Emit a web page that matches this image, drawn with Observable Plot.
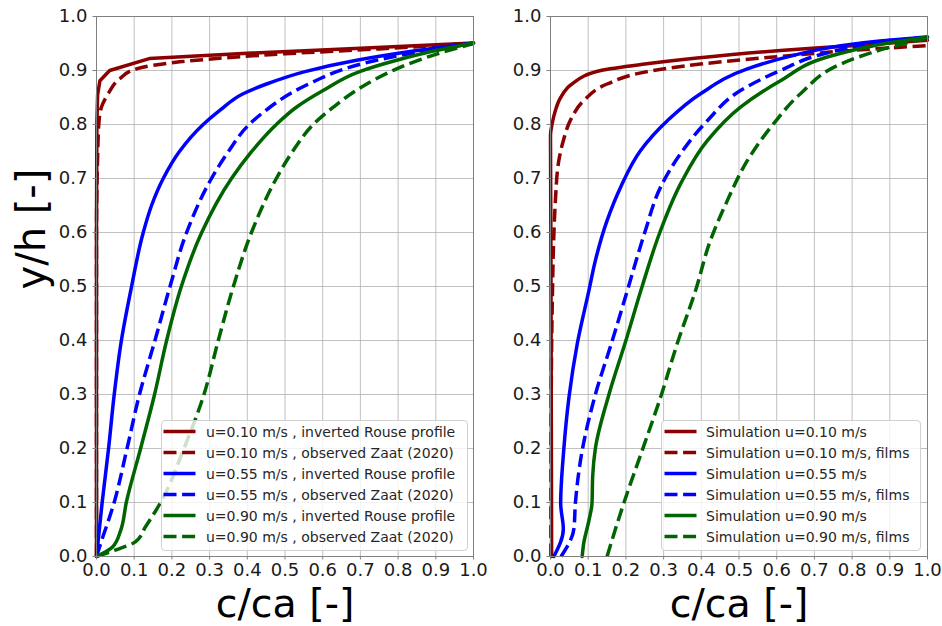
<!DOCTYPE html>
<html>
<head>
<meta charset="utf-8">
<script src="https://cdn.jsdelivr.net/npm/d3@7"></script>
<script src="https://cdn.jsdelivr.net/npm/@observablehq/plot@0.6"></script>
<style>
  body { margin: 0; background: #fff; }
  #wrap { position: relative; width: 942px; height: 626px; overflow: hidden; font-family: "DejaVu Sans", sans-serif; }
  .legend { position: absolute; box-sizing: border-box; border: 1px solid #d0d0d0; border-radius: 4px; background: rgba(255,255,255,0.8); }
</style>
</head>
<body>
<div id="wrap"></div>
<script>
// ---------- data: [c/ca, y/h] pairs ----------
// Left panel: inverted Rouse profile vs observed Zaat (2020)
const rouse010 = [[0,0],[0,0.6],[0.001,0.8],[0.003,0.855],[0.009,0.881],[0.035,0.9],[0.14,0.922],[0.4,0.932],[0.7,0.941],[1.0,0.951]];
const obs010   = [[0,0],[0,0.6],[0.003,0.74],[0.006,0.8],[0.013,0.832],[0.031,0.857],[0.062,0.885],[0.106,0.903],[0.221,0.916],[0.265,0.919],[0.5,0.931],[0.75,0.94],[1.0,0.95]];
const rouse055 = [[0,0],[0.015,0.1],[0.032,0.2],[0.047,0.3],[0.066,0.4],[0.093,0.5],[0.124,0.6],[0.146,0.65],[0.177,0.7],[0.22,0.75],[0.283,0.8],[0.327,0.826],[0.389,0.857],[0.451,0.875],[0.553,0.898],[0.69,0.919],[0.85,0.937],[1.0,0.951]];
const obs055   = [[0,0],[0.011,0.024],[0.046,0.098],[0.081,0.2],[0.114,0.3],[0.155,0.4],[0.195,0.5],[0.239,0.6],[0.305,0.7],[0.35,0.75],[0.405,0.8],[0.46,0.832],[0.513,0.857],[0.584,0.882],[0.637,0.898],[0.743,0.919],[0.87,0.936],[1.0,0.95]];
const rouse090 = [[0,0],[0.042,0.017],[0.064,0.048],[0.079,0.1],[0.117,0.2],[0.154,0.3],[0.186,0.4],[0.225,0.5],[0.279,0.6],[0.358,0.7],[0.407,0.746],[0.477,0.8],[0.53,0.832],[0.601,0.863],[0.698,0.898],[0.796,0.919],[0.9,0.937],[1.0,0.951]];
const obs090   = [[0,0],[0.05,0.012],[0.103,0.027],[0.13,0.055],[0.17,0.1],[0.232,0.2],[0.285,0.3],[0.323,0.4],[0.363,0.5],[0.411,0.6],[0.477,0.7],[0.522,0.752],[0.575,0.8],[0.628,0.832],[0.7,0.868],[0.796,0.903],[0.9,0.93],[1.0,0.95]];

// Right panel: simulations, with and without films
const sim010   = [[0.003,0],[0.002,0.3],[0.001,0.6],[0,0.78],[0.004,0.8],[0.013,0.826],[0.027,0.85],[0.057,0.875],[0.133,0.9],[0.25,0.912],[0.389,0.923],[0.61,0.937],[0.8,0.946],[1.0,0.956]];
const films010 = [[0.001,0],[0.002,0.3],[0.005,0.48],[0.009,0.598],[0.013,0.659],[0.022,0.733],[0.034,0.77],[0.053,0.808],[0.088,0.844],[0.15,0.875],[0.25,0.897],[0.398,0.912],[0.592,0.925],[0.857,0.94],[1.0,0.946]];
const sim055   = [[0.009,0],[0.034,0.051],[0.027,0.098],[0.035,0.196],[0.049,0.295],[0.071,0.394],[0.102,0.493],[0.119,0.548],[0.15,0.622],[0.186,0.684],[0.239,0.752],[0.31,0.807],[0.398,0.857],[0.522,0.903],[0.645,0.928],[0.77,0.946],[0.88,0.955],[1.0,0.962]];
const films055 = [[0.028,0],[0.062,0.051],[0.066,0.098],[0.084,0.196],[0.119,0.3],[0.164,0.4],[0.207,0.5],[0.25,0.6],[0.292,0.684],[0.345,0.746],[0.416,0.807],[0.504,0.863],[0.61,0.9],[0.725,0.931],[0.86,0.95],[1.0,0.962]];
const sim090   = [[0.084,0],[0.088,0.024],[0.102,0.067],[0.11,0.098],[0.112,0.15],[0.119,0.2],[0.155,0.3],[0.2,0.4],[0.243,0.5],[0.29,0.6],[0.345,0.69],[0.416,0.77],[0.504,0.832],[0.61,0.881],[0.734,0.925],[0.857,0.946],[1.0,0.962]];
const films090 = [[0.15,0],[0.194,0.098],[0.243,0.196],[0.292,0.295],[0.336,0.394],[0.385,0.493],[0.424,0.585],[0.469,0.659],[0.522,0.733],[0.59,0.8],[0.663,0.857],[0.77,0.912],[0.884,0.94],[1.0,0.96]];

const tickValues = [0,0.1,0.2,0.3,0.4,0.5,0.6,0.7,0.8,0.9,1.0];
const colors = ["#8b0000","#8b0000","#0000ff","#0000ff","#006400","#006400"];
const dashed = [false,true,false,true,false,true];
const leftLabels = ["u=0.10 m/s , inverted Rouse profile","u=0.10 m/s , observed Zaat (2020)","u=0.55 m/s , inverted Rouse profile","u=0.55 m/s , observed Zaat (2020)","u=0.90 m/s , inverted Rouse profile","u=0.90 m/s , observed Zaat (2020)"];
const rightLabels = ["Simulation u=0.10 m/s","Simulation u=0.10 m/s, films","Simulation u=0.55 m/s","Simulation u=0.55 m/s, films","Simulation u=0.90 m/s","Simulation u=0.90 m/s, films"];
const xLabel = "c/ca [-]";
const yLabel = "y/h [-]";
const leftSeries = [rouse010, obs010, rouse055, obs055, rouse090, obs090];
const rightSeries = [sim010, films010, sim055, films055, sim090, films090];

const DASH = "13,5.6";

function panel(series, {width, marginLeft, marginRight, showYLabel, curves}) {
  const marks = [
    Plot.gridX(tickValues, {stroke: "#b0b0b0", strokeOpacity: 1, strokeWidth: 0.8}),
    Plot.gridY(tickValues, {stroke: "#b0b0b0", strokeOpacity: 1, strokeWidth: 0.8}),
    ...series.map((s, i) => Plot.line(s, {
      x: d => d[0], y: d => d[1], stroke: colors[i], strokeWidth: 3.5,
      curve: curves[i],
      strokeDasharray: dashed[i] ? DASH : null,
      strokeLinecap: dashed[i] ? "butt" : "round", strokeLinejoin: "round"
    })),
    Plot.frame({stroke: "#808080", strokeWidth: 1}),
    Plot.axisX(tickValues, {tickFormat: d3.format(".1f"), tickSize: 3.5, tickPadding: 3, fontSize: 18, stroke: "#808080", fill: "#1a1a1a", label: null}),
    Plot.axisY(tickValues, {tickFormat: d3.format(".1f"), tickSize: 3.5, tickPadding: 5.5, fontSize: 18, stroke: "#808080", fill: "#1a1a1a", label: null}),
    Plot.text([xLabel], {text: d => d, frameAnchor: "bottom", lineAnchor: "bottom", dy: 60.5, fontSize: 39.5, fill: "#000"})
  ];
  if (showYLabel) {
    marks.push(Plot.text([yLabel], {text: d => d, frameAnchor: "left", lineAnchor: "bottom", rotate: -90, dx: -51.3, dy: 3, fontSize: 40, fill: "#000"}));
  }
  return Plot.plot({
    width, height: 626,
    marginLeft, marginRight, marginTop: 16, marginBottom: 70,
    x: {domain: [0, 1]},
    y: {domain: [0, 1]},
    style: {fontFamily: "DejaVu Sans", background: "transparent", overflow: "visible"},
    marks
  });
}

const wrap = document.getElementById("wrap");
const M = "monotone-y";
const left = panel(leftSeries, {width: 490, marginLeft: 96, marginRight: 17, showYLabel: true,
  curves: ["linear", M, M, M, M, M]});
Object.assign(left.style, {position: "absolute", left: "0px", top: "0px", maxWidth: "none"});
wrap.appendChild(left);
const right = panel(rightSeries, {width: 452, marginLeft: 60, marginRight: 15, showYLabel: false,
  curves: [M, M, M, M, M, M]});
Object.assign(right.style, {position: "absolute", left: "490px", top: "0px", maxWidth: "none"});
wrap.appendChild(right);

function legend(labels, {x, y, w, h, sampleX, textX}) {
  const div = d3.select(wrap).append("div").attr("class", "legend")
    .style("left", x + "px").style("top", y + "px").style("width", w + "px").style("height", h + "px");
  const svg = div.append("svg").attr("width", w).attr("height", h)
    .style("position", "absolute").style("left", "-1px").style("top", "-1px");
  labels.forEach((lab, i) => {
    const cy = 11.5 + 21 * i;
    svg.append("line").attr("x1", sampleX).attr("x2", sampleX + 32).attr("y1", cy).attr("y2", cy)
      .attr("stroke", colors[i]).attr("stroke-width", 3.5)
      .attr("stroke-dasharray", dashed[i] ? DASH : null);
    svg.append("text").attr("x", textX).attr("y", cy).attr("dy", "0.36em")
      .attr("font-family", "DejaVu Sans").attr("font-size", 14).attr("fill", "#262626")
      .text(lab);
  });
}
legend(leftLabels, {x: 160.5, y: 420, w: 307, h: 131, sampleX: 2.5, textX: 45});
legend(rightLabels, {x: 660.5, y: 419.5, w: 260, h: 131, sampleX: 3.5, textX: 45});
</script>
</body>
</html>
